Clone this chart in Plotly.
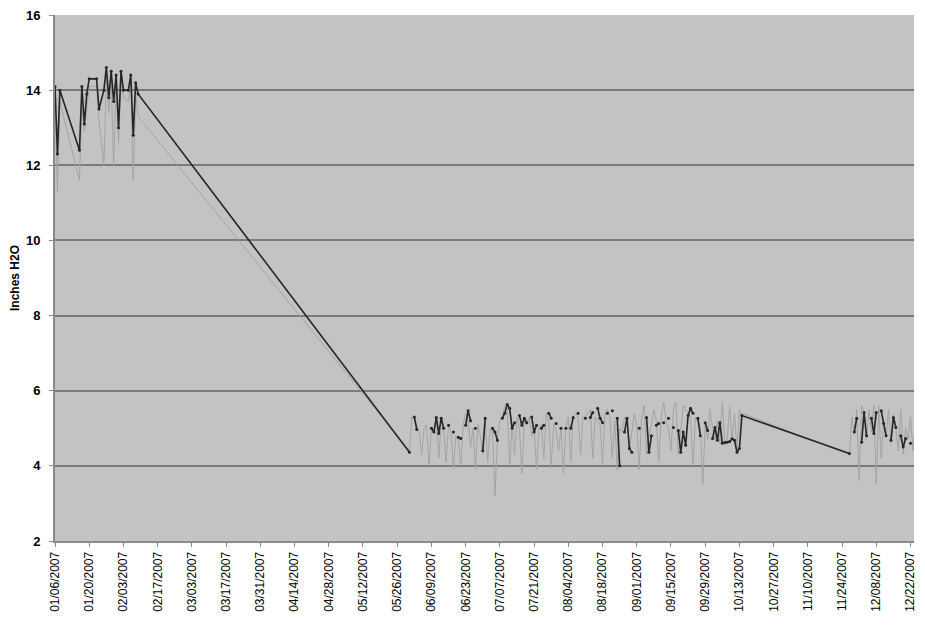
import pandas as pd
import plotly.graph_objects as go

# ---------------- data ----------------
# January / early February rows (dates where readings exist)
jan_dates = ["2007-01-06", "2007-01-07", "2007-01-08", "2007-01-16", "2007-01-17", "2007-01-18",
             "2007-01-19", "2007-01-20", "2007-01-23", "2007-01-24", "2007-01-26", "2007-01-27",
             "2007-01-28", "2007-01-29", "2007-01-30", "2007-01-31", "2007-02-01", "2007-02-02",
             "2007-02-03", "2007-02-05", "2007-02-06", "2007-02-07", "2007-02-08", "2007-02-09"]
jan_dark = [14.1, 12.3, 14.0, 12.4, 14.1, 13.1, 13.9, 14.3, 14.3, 13.5, 14.0, 14.6,
            13.8, 14.5, 13.7, 14.4, 13.0, 14.5, 14.0, 14.0, 14.4, 12.8, 14.2, 13.9]
jan_light = [13.8, 11.3, 13.7, 11.6, 13.6, 12.9, 13.5, 14.1, 14.1, 13.2, 12.0, 14.3,
             13.4, 14.2, 12.0, 14.2, 12.6, 14.3, 13.8, 13.7, 14.2, 11.6, 13.9, 13.3]

# Summer rows: daily from 05/31 to 10/14
summer_start, summer_end = "2007-05-31", "2007-10-14"
N = None
summer_dark = [
    4.36, N, 5.30, 4.97, N, N, N, N, N, 5.0,          # 0-9
    4.9, 5.29, 4.86, 5.27, 5.0, N, 5.08, N, 4.9, N,   # 10-19
    4.76, 4.73, N, 5.08, 5.47, 5.2, N, 5.0, N, N,     # 20-29
    4.4, 5.27, N, N, 5.0, 4.9, 4.68, N, 5.27, 5.4,    # 30-39
    5.63, 5.53, 5.0, 5.15, N, 5.34, 5.08, 5.27, 5.15, N,  # 40-49
    5.3, 4.9, 5.08, N, 5.0, 5.08, N, 5.4, 5.27, N,    # 50-59
    5.13, N, 5.0, N, 5.0, N, 5.0, 5.29, N, 5.4,       # 60-69
    N, N, 5.27, N, 5.29, 5.42, N, 5.53, 5.27, 5.15,   # 70-79
    N, 5.4, N, 5.47, N, 5.27, 4.0, N, 4.9, 5.27,      # 80-89
    4.46, 4.36, N, N, 5.0, N, N, 5.29, 4.36, 4.8,     # 90-99
    N, 5.08, 5.13, N, 5.15, N, 5.27, N, 5.02, N,      # 100-109
    4.94, 4.36, 4.9, 4.55, 5.34, 5.53, 5.4, N, 5.27, 4.8,  # 110-119
    N, 5.15, 4.94, N, 4.73, 5.02, 4.68, 5.15, 4.6, 4.62,   # 120-129
    4.63, 4.65, 4.72, 4.68, 4.36, 4.46, 5.34,              # 130-136
]
summer_light = [
    4.4, 5.3, 5.25, 5.1, 4.9, 4.3, 5.0, 5.1, 4.0, 5.0,
    4.9, 5.2, 4.2, 5.2, 5.0, 4.1, 5.1, 4.9, 3.9, 4.8,
    4.7, 4.0, 5.1, 5.4, 5.2, 4.5, 5.0, 3.9, 5.1, 4.8,
    4.3, 5.2, 4.1, 5.0, 4.9, 3.2, 4.7, 5.2, 5.3, 5.6,
    5.5, 4.0, 5.1, 4.3, 5.3, 5.0, 3.8, 5.2, 5.1, 5.3,
    4.8, 5.0, 3.9, 5.0, 5.1, 4.2, 5.4, 5.2, 4.0, 5.1,
    5.0, 4.4, 5.0, 3.8, 5.0, 5.3, 4.1, 5.3, 5.4, 5.3,
    4.3, 5.3, 5.3, 5.4, 5.5, 4.2, 5.3, 5.2, 5.1, 4.0,
    5.4, 5.5, 5.3, 4.2, 5.2, 3.9, 5.0, 4.9, 5.3, 5.2,
    4.4, 4.9, 5.4, 5.1, 3.9, 5.3, 5.6, 4.3, 4.8, 5.1,
    5.5, 5.2, 4.1, 5.3, 5.7, 5.2, 5.0, 4.4, 5.5, 5.7,
    4.3, 4.9, 5.6, 5.5, 5.4, 5.3, 4.0, 5.3, 5.2, 5.0,
    3.5, 5.1, 4.7, 5.5, 5.0, 4.7, 5.2, 4.6, 5.7, 4.6,
    4.7, 5.6, 4.7, 5.4, 4.4, 5.5, 5.4,
]

# December rows: daily from 11/27 to 12/28
dec_start, dec_end = "2007-11-27", "2007-12-28"
dec_dark = [4.33, N, 4.9, 5.27, N, 4.63, 5.42, 4.8, N, 5.27,
            4.86, 5.42, N, 5.47, 5.13, 4.8, N, 4.68, 5.29, 5.02,
            N, 4.8, 4.5, 4.73, N, 4.6, N, 4.46, 4.73, 5.0, N, N]
dec_light = [4.3, 5.3, 4.9, 5.5, 3.6, 5.6, 5.4, 4.7, 5.5, 4.9,
             5.6, 3.5, 5.6, 4.2, 5.2, 4.8, 5.5, 4.6, 5.4, 5.0,
             4.4, 5.5, 4.3, 5.0, 4.7, 5.3, 4.4, 5.2, 4.5, 5.1, 4.4, 5.0]

y_tick_values = [2, 4, 6, 8, 10, 12, 14, 16]
y_tick_labels = ["2", "4", "6", "8", "10", "12", "14", "16"]
x_tick_start, x_tick_end = "2007-01-06", "2007-12-22"

# ---------------- build ----------------
dates = (list(pd.to_datetime(jan_dates))
         + list(pd.date_range(summer_start, summer_end, freq="D"))
         + list(pd.date_range(dec_start, dec_end, freq="D")))
dark = jan_dark + summer_dark + dec_dark
light = jan_light + summer_light + dec_light

tick_dates = pd.date_range(x_tick_start, x_tick_end, freq="14D")

fig = go.Figure()
fig.add_trace(go.Scatter(x=dates, y=light, mode="lines",
                         line=dict(color="#a4a4a4", width=1), connectgaps=False,
                         showlegend=False))
fig.add_trace(go.Scatter(x=dates, y=dark, mode="lines+markers",
                         line=dict(color="#262626", width=1.6),
                         marker=dict(color="#262626", size=3), connectgaps=False,
                         showlegend=False))

fig.update_layout(
    width=909, height=615,
    margin=dict(l=47, r=0, t=5, b=82),
    paper_bgcolor="white",
    plot_bgcolor="#c3c3c3",
    font=dict(family="Liberation Sans, Arial, sans-serif", color="black"),
    xaxis=dict(
        range=["2007-01-06", "2007-12-23 10:00"],
        tickvals=list(tick_dates),
        tickformat="%m/%d/%Y",
        tickangle=-90,
        tickfont=dict(size=12),
        ticklabeloverflow="allow",
        showgrid=False,
        showline=True, linecolor="#8a8a8a", linewidth=2,
        ticks="outside", ticklen=4, tickcolor="#8a8a8a",
        zeroline=False,
    ),
    yaxis=dict(
        range=[2, 16],
        tickvals=y_tick_values,
        ticktext=["<b>" + t + "</b>" for t in y_tick_labels],
        tickfont=dict(size=13),
        ticklabelstandoff=6,
        ticklabeloverflow="allow",
        showgrid=True, gridcolor="#7a7a7a", gridwidth=1.5,
        showline=True, linecolor="#8a8a8a", linewidth=2,
        ticks="outside", ticklen=4, tickcolor="#8a8a8a",
        zeroline=False,
        title=dict(text="<b>Inches H2O</b>", font=dict(size=12), standoff=5),
    ),
)

fig.write_html("out.html")
